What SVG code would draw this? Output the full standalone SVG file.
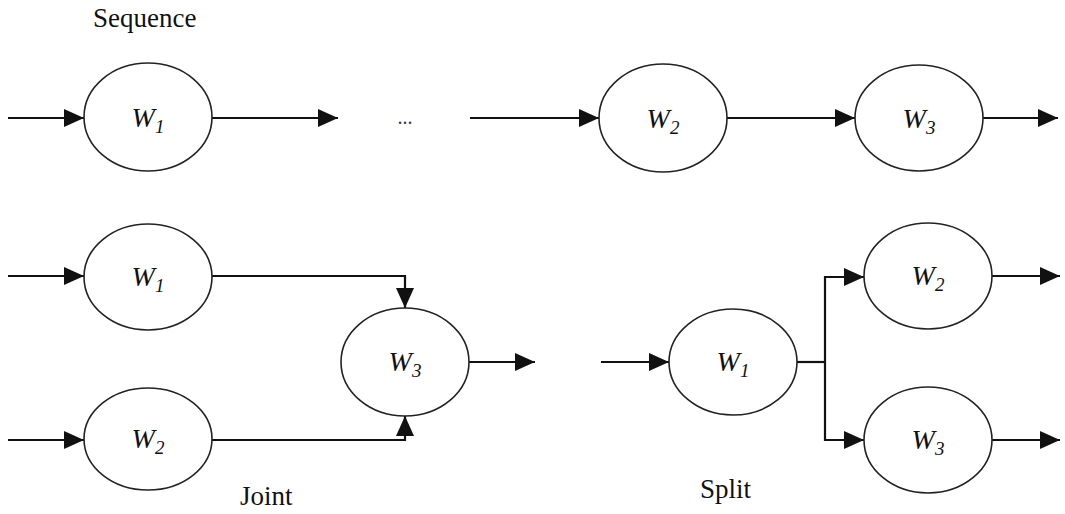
<svg xmlns="http://www.w3.org/2000/svg" width="1065" height="514" viewBox="0 0 1065 514">
<style>
.node ellipse{fill:#fff;stroke:#222;stroke-width:1.6}
.w{font-family:'Times New Roman','Liberation Serif','DejaVu Serif',serif;font-style:italic;font-size:28px;fill:#111}
.w tspan{font-size:19px}
.lbl{font-family:'Times New Roman','Liberation Serif','DejaVu Serif',serif;font-size:27px;fill:#111}
.dots{font-family:'Times New Roman','Liberation Serif','DejaVu Serif',serif;font-size:20px;fill:#335}
#connectors line,#connectors path{stroke:#111;stroke-width:2.2;fill:none}
</style>
<defs>
<marker id="ah" markerUnits="userSpaceOnUse" markerWidth="20" markerHeight="18" viewBox="0 0 20 18" refX="20" refY="9" orient="auto">
<path d="M0,0 L20,9 L0,18 z" fill="#111"/>
</marker>
</defs>
<text class="lbl" x="93" y="27">Sequence</text>
<text class="lbl" x="240" y="505">Joint</text>
<text class="lbl" x="700" y="498">Split</text>
<text class="dots" x="405" y="124" text-anchor="middle">...</text>
<g id="connectors">
<line x1="8" y1="118" x2="84" y2="118" marker-end="url(#ah)"/>
<line x1="212" y1="118" x2="338" y2="118" marker-end="url(#ah)"/>
<line x1="470" y1="118" x2="599" y2="118" marker-end="url(#ah)"/>
<line x1="727" y1="118" x2="855" y2="118" marker-end="url(#ah)"/>
<line x1="983" y1="118" x2="1058" y2="118" marker-end="url(#ah)"/>
<line x1="8" y1="276" x2="84" y2="276" marker-end="url(#ah)"/>
<line x1="8" y1="440" x2="84" y2="440" marker-end="url(#ah)"/>
<path d="M212,276 H405 V308" marker-end="url(#ah)"/>
<path d="M212,440 H405 V416" marker-end="url(#ah)"/>
<line x1="469" y1="362" x2="535" y2="362" marker-end="url(#ah)"/>
<line x1="601" y1="362" x2="669" y2="362" marker-end="url(#ah)"/>
<path d="M797,362 H825"/>
<path d="M825,362 V277 H864" marker-end="url(#ah)"/>
<path d="M825,362 V440 H864" marker-end="url(#ah)"/>
<line x1="992" y1="276" x2="1060" y2="276" marker-end="url(#ah)"/>
<line x1="992" y1="440" x2="1060" y2="440" marker-end="url(#ah)"/>
</g>
<g id="seq-w1" class="node"><ellipse cx="148" cy="117" rx="64" ry="54"/><text class="w" x="148" y="127" text-anchor="middle">W<tspan dy="6">1</tspan></text></g>
<g id="seq-w2" class="node"><ellipse cx="663" cy="118" rx="64" ry="54"/><text class="w" x="663" y="128" text-anchor="middle">W<tspan dy="6">2</tspan></text></g>
<g id="seq-w3" class="node"><ellipse cx="919" cy="118" rx="64" ry="53"/><text class="w" x="919" y="128" text-anchor="middle">W<tspan dy="6">3</tspan></text></g>
<g id="joint-w1" class="node"><ellipse cx="148" cy="277" rx="64" ry="53"/><text class="w" x="148" y="286" text-anchor="middle">W<tspan dy="6">1</tspan></text></g>
<g id="joint-w2" class="node"><ellipse cx="148" cy="439" rx="64" ry="51"/><text class="w" x="148" y="448" text-anchor="middle">W<tspan dy="6">2</tspan></text></g>
<g id="joint-w3" class="node"><ellipse cx="405" cy="362" rx="64" ry="54"/><text class="w" x="405" y="371" text-anchor="middle">W<tspan dy="6">3</tspan></text></g>
<g id="split-w1" class="node"><ellipse cx="733" cy="362" rx="64" ry="53"/><text class="w" x="733" y="371" text-anchor="middle">W<tspan dy="6">1</tspan></text></g>
<g id="split-w2" class="node"><ellipse cx="928" cy="276" rx="64" ry="53"/><text class="w" x="928" y="285" text-anchor="middle">W<tspan dy="6">2</tspan></text></g>
<g id="split-w3" class="node"><ellipse cx="928" cy="440" rx="64" ry="53"/><text class="w" x="928" y="449" text-anchor="middle">W<tspan dy="6">3</tspan></text></g>
</svg>
